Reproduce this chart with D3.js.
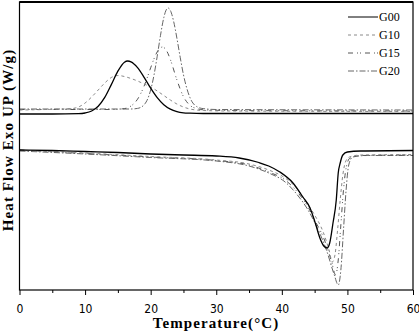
<!DOCTYPE html>
<html><head><meta charset="utf-8">
<script src="https://cdn.jsdelivr.net/npm/d3@7"></script>
<style>body{margin:0;background:#fff}svg{display:block}</style>
</head><body><svg id="c" width="419" height="332"></svg>
<script>
// ---------- data (Temperature °C, Heat flow, arbitrary W/g units) ----------
const seriesNames = ["G00", "G10", "G15", "G20"];
const xTicks = [0, 10, 20, 30, 40, 50, 60];
const xMinorTicks = [5, 15, 25, 35, 45, 55];

// crystallization (exothermic, upper) traces
const g00Upper = [[0,17.6],[5,17.6],[9,17.63],[10,17.7],[11,17.9],[12,18.38],[13,19.26],[14,20.54],[15,21.88],[16,22.78],[16.5,22.9],[17,22.82],[18,22.24],[19,21.27],[20,20.18],[21,19.23],[22,18.52],[23,18.08],[24,17.84],[25,17.72],[26,17.68],[28,17.65],[60,17.65]];
const g10Upper = [[0,18.0],[4,18.05],[8,18.15],[9,18.3],[10,18.7],[11,19.3],[12,20.0],[13,20.7],[14,21.25],[15,21.45],[16,21.35],[17,21.15],[18,20.9],[19,20.6],[20,20.3],[21,19.9],[22,19.45],[23,19.0],[24,18.6],[25,18.3],[26,18.1],[28,17.95],[32,17.9],[60,17.85]];
const g15Upper = [[0,18.05],[10,18.05],[14,18.05],[16,18.14],[17,18.4],[18,19.08],[19,20.39],[20,22.22],[20.5,23.11],[21,23.82],[21.8,24.3],[22.5,23.84],[23,23.05],[24,21.01],[25,19.34],[26,18.46],[27,18.15],[28,18.02],[32,17.95],[60,17.9]];
const g20Upper = [[0,18.1],[10,18.1],[17,18.1],[18,18.16],[19,18.52],[20,20.0],[20.5,21.46],[21,23.38],[21.5,25.47],[22,27.23],[22.3,27.91],[22.65,28.2],[23,27.96],[23.5,26.87],[24,25.18],[24.5,23.28],[25,21.53],[26,19.23],[27,18.35],[28,18.14],[30,18.05],[60,18.0]];

// melting (endothermic, lower) traces
const g00Lower = [[0,14.0],[5,13.95],[10,13.85],[15,13.75],[20,13.6],[25,13.5],[30,13.4],[33.5,13.2],[36.5,12.75],[38,12.4],[39.7,11.8],[41.7,10.7],[43.2,9.3],[44.3,8.2],[45.1,6.7],[45.8,5.2],[46.4,4.4],[46.9,4.2],[47.3,4.7],[47.8,6.7],[48.3,9.0],[48.6,11.7],[48.9,12.7],[49.3,13.5],[50,13.8],[52,13.9],[60,13.95]];
const g10Lower = [[0,13.95],[10,13.7],[20,13.35],[30,13.0],[35,12.6],[38,12.0],[40.5,11.2],[42.5,10.0],[44,8.5],[45,7.5],[46.3,5.8],[47.2,4.0],[47.7,2.8],[48.1,3.5],[48.5,6.0],[48.9,9.0],[49.3,11.5],[49.7,12.8],[50.3,13.3],[52,13.5],[60,13.55]];
const g15Lower = [[0,14.0],[10,13.65],[20,13.3],[30,12.95],[35,12.5],[38,11.8],[40.5,11.0],[42.5,9.7],[44,8.3],[45,7.0],[46.5,5.0],[47.6,2.8],[48.2,1.5],[48.6,3.0],[49,6.5],[49.4,10.0],[49.8,12.2],[50.4,13.2],[52,13.45],[60,13.5]];
const g20Lower = [[0,13.9],[10,13.6],[20,13.25],[30,12.9],[35,12.4],[38,11.7],[40.5,10.8],[42.5,9.4],[44,8.0],[45.2,6.5],[46.8,4.0],[48,1.5],[48.6,0.5],[49,2.0],[49.4,6.0],[49.8,10.0],[50.2,12.5],[50.8,13.3],[53,13.45],[60,13.45]];

// ---------- styles ----------
const styles = {
  G00: {stroke: "#000", width: 1.3, dash: null},
  G10: {stroke: "#8a8a8a", width: 1, dash: "3,3"},
  G15: {stroke: "#555", width: 1, dash: "5,4,1,2,1,4"},
  G20: {stroke: "#666", width: 1, dash: "6,2,1.5,2"}
};
const traces = [
  {name: "G20", data: g20Upper}, {name: "G15", data: g15Upper}, {name: "G10", data: g10Upper}, {name: "G00", data: g00Upper},
  {name: "G20", data: g20Lower}, {name: "G15", data: g15Lower}, {name: "G10", data: g10Lower}, {name: "G00", data: g00Lower}
];

const svg = d3.select("#c");
const L = 19.5, R = 413, T = 2, B = 290;
const x = d3.scaleLinear().domain([0, 60]).range([L, R]);
const y = d3.scaleLinear().domain([0, 28.8]).range([B, T]);

const line = d3.line().x(d => x(d[0])).y(d => y(d[1])).curve(d3.curveMonotoneX);

const plot = svg.append("g");
plot.selectAll("path.trace").data(traces).join("path")
  .attr("class", "trace")
  .attr("d", d => line(d.data))
  .attr("fill", "none")
  .attr("stroke", d => styles[d.name].stroke)
  .attr("stroke-width", d => styles[d.name].width)
  .attr("stroke-dasharray", d => styles[d.name].dash);

// frame
svg.append("rect").attr("x", L).attr("y", T).attr("width", R - L).attr("height", B - T)
  .attr("fill", "none").attr("stroke", "#000").attr("stroke-width", 1.2);
svg.append("line").attr("x1", L).attr("x2", R).attr("y1", T).attr("y2", T)
  .attr("stroke", "#000").attr("stroke-width", 1.8);

// x axis major
const xAxis = svg.append("g").attr("transform", `translate(0,${B})`)
  .call(d3.axisBottom(x).tickValues(xTicks).tickSize(5).tickPadding(9).tickFormat(d3.format("d")));
xAxis.select(".domain").remove();
xAxis.selectAll("line").attr("stroke", "#000");
xAxis.selectAll("text").attr("font-family", "'Liberation Sans Narrow','Arial Narrow','DejaVu Sans Condensed',sans-serif")
  .attr("font-size", 12).attr("fill", "#000");
// x axis minor
const xMinor = svg.append("g").attr("transform", `translate(0,${B})`)
  .call(d3.axisBottom(x).tickValues(xMinorTicks).tickSize(3).tickFormat(""));
xMinor.select(".domain").remove();
xMinor.selectAll("line").attr("stroke", "#000");

// axis titles
svg.append("text").attr("x", 216).attr("y", 328)
  .attr("text-anchor", "middle").attr("font-family", "'Liberation Serif','Times New Roman',serif")
  .attr("font-weight", "bold").attr("font-size", 15).attr("letter-spacing", 1.1).text("Temperature(°C)");
svg.append("text").attr("transform", `translate(13,140) rotate(-90)`)
  .attr("text-anchor", "middle").attr("font-family", "'Liberation Serif','Times New Roman',serif")
  .attr("font-weight", "bold").attr("font-size", 15).attr("letter-spacing", 1.1).text("Heat Flow Exo UP (W/g)");

// legend
const leg = svg.append("g");
seriesNames.forEach((n, i) => {
  const yy = 17 + i * 18;
  leg.append("line").attr("x1", 348).attr("x2", 378).attr("y1", yy).attr("y2", yy)
    .attr("stroke", styles[n].stroke).attr("stroke-width", n === "G00" ? 1 : styles[n].width)
    .attr("stroke-dasharray", styles[n].dash);
  leg.append("text").attr("x", 379).attr("y", yy + 4)
    .attr("font-family", "'Liberation Serif','Times New Roman',serif").attr("font-size", 12)
    .attr("fill", "#000").text(n);
});
</script>
</body></html>
